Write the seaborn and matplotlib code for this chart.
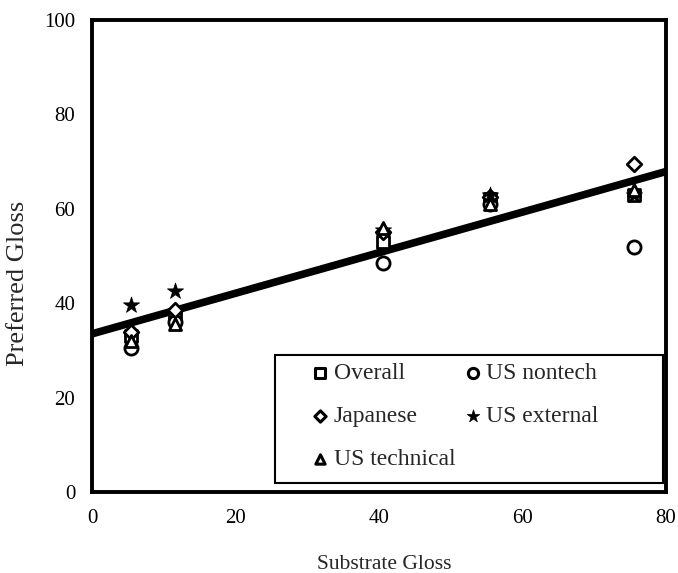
import matplotlib
matplotlib.use("Agg")
import matplotlib.pyplot as plt
from matplotlib.patches import Rectangle
import seaborn as sns
import pandas as pd
import numpy as np

# Substrate gloss levels tested and preferred gloss per observer group
substrate_gloss = [5.5, 11.5, 40.5, 55.5, 75.5]
overall = [33.0, 37.5, 53.0, 62.0, 63.0]
us_nontech = [30.5, 36.0, 48.5, 61.0, 52.0]
japanese = [34.0, 38.5, 55.0, 62.5, 69.5]
us_external = [39.6, 42.5, 55.5, 63.0, 63.0]
us_technical = [32.0, 35.5, 56.0, 61.0, 64.0]

# Linear trend line (intercept and slope)
fit_intercept = 33.5
fit_slope = 0.43
fit_x = [0, 80]

groups = {
    "Overall": overall,
    "US nontech": us_nontech,
    "Japanese": japanese,
    "US external": us_external,
    "US technical": us_technical,
}

rows = []
for name, vals in groups.items():
    for x, y in zip(substrate_gloss, vals):
        rows.append({"Substrate Gloss": x, "Preferred Gloss": y, "group": name})
df = pd.DataFrame(rows)

sns.set_theme(style="white")
plt.rcParams["font.family"] = ["Liberation Serif", "DejaVu Serif"]

fig = plt.figure(figsize=(6.78, 5.73), dpi=100)
ax = fig.add_axes([0.1357, 0.1414, 0.8466, 0.8237])

fit_df = pd.DataFrame({"x": fit_x,
                       "y": [fit_intercept + fit_slope * v for v in fit_x]})
sns.lineplot(data=fit_df, x="x", y="y", ax=ax, color="black", linewidth=5.5,
             legend=False, zorder=2)

markers = {"Overall": "s", "US nontech": "o", "Japanese": "D",
           "US external": "*", "US technical": "^"}
sizes = {"Overall": 70, "US nontech": 90, "Japanese": 55,
         "US external": 150, "US technical": 75}

handles = {}
for name in groups:
    sub = df[df["group"] == name]
    filled = name == "US external"
    sns.scatterplot(data=sub, x="Substrate Gloss", y="Preferred Gloss", ax=ax,
                    marker=markers[name], s=sizes[name],
                    facecolor="black" if filled else "white",
                    edgecolor="black", linewidth=0.5 if filled else 2.0,
                    zorder=3, legend=False)
    handles[name] = ax.scatter([], [], marker=markers[name],
                               s=sizes[name] * 0.6,
                               facecolor="black" if filled else "white",
                               edgecolor="black",
                               linewidth=0.5 if filled else 2.2)

ax.set_xlim(0, 80)
ax.set_ylim(0, 100)
ax.set_xticks([0, 20, 40, 60, 80])
ax.set_yticks([0, 20, 40, 60, 80, 100])
ax.tick_params(direction="in", length=6, width=1.5, labelsize=15,
               pad=12, colors="black")
ax.set_xlabel("Substrate Gloss", fontsize=15.5)
ax.set_ylabel("Preferred Gloss", fontsize=19)
ax.xaxis.set_label_coords(0.51, -0.133)
ax.yaxis.set_label_coords(-0.110, 0.443)

for sp in ax.spines.values():
    sp.set_visible(True)
    sp.set_color("black")
    sp.set_linewidth(2.8)

# Legend entries in two columns inside a framed box
order = ["Overall", "Japanese", "US technical", "US nontech", "US external"]
ax.add_patch(Rectangle((0.319, 0.019), 0.676, 0.271, transform=ax.transAxes,
                       facecolor="white", edgecolor="black", linewidth=1.5,
                       zorder=4))
leg = ax.legend([handles[n] for n in order], order, ncol=2, loc="upper left",
                bbox_to_anchor=(0.379, 0.275), fontsize=17, frameon=False,
                handletextpad=0.12, handlelength=0.9, columnspacing=0.3,
                labelspacing=0.91, borderpad=0, borderaxespad=0)
leg.set_zorder(5)

fig.savefig("out.png", dpi=100)
